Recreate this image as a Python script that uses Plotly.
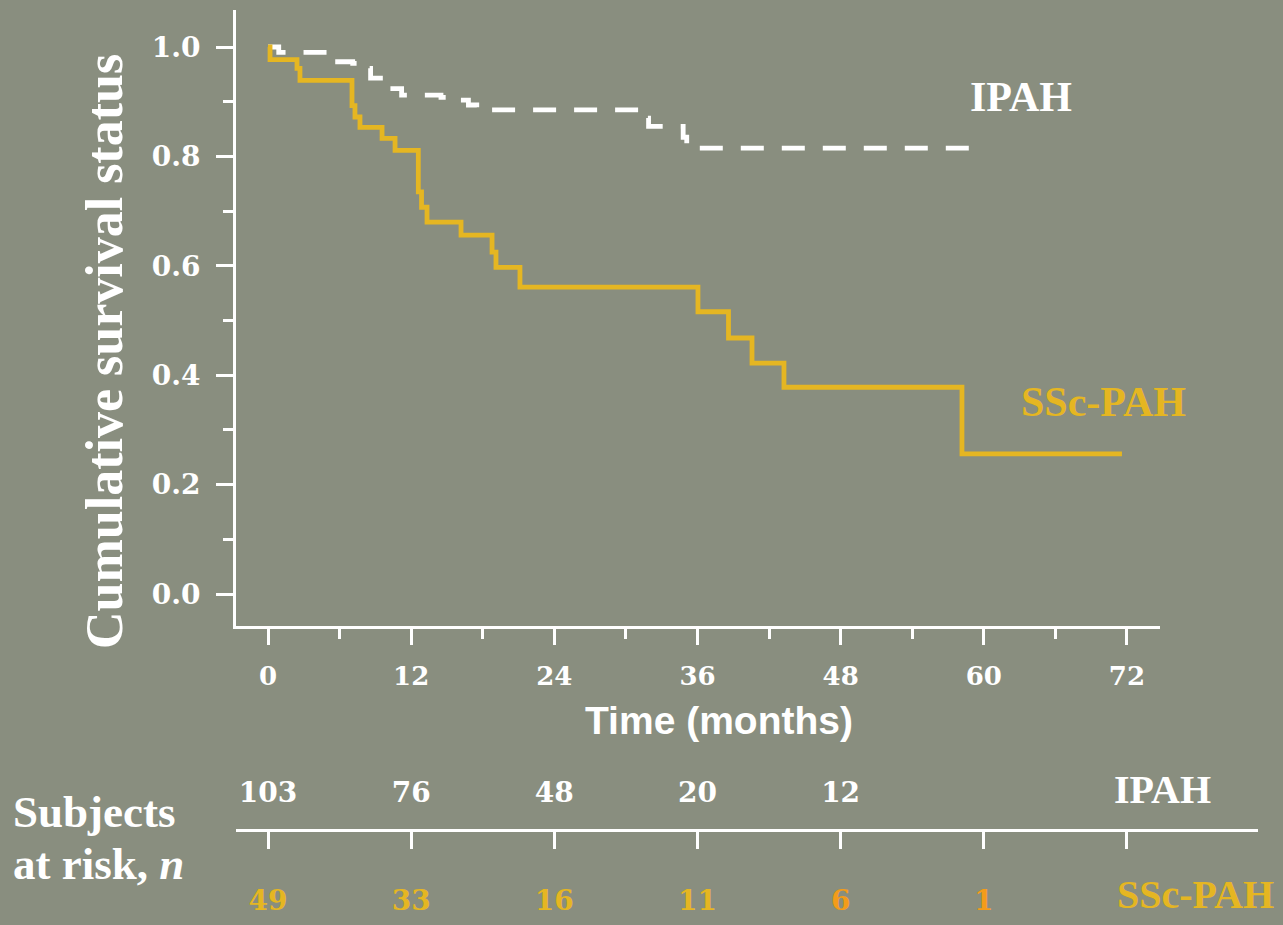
import plotly.graph_objects as go

# ---------------- data ----------------
ssc_time = [0, 0.17, 2.43, 2.68, 7.04, 7.29, 7.71, 9.56, 10.65, 12.6, 12.87, 13.33,
            16.18, 18.78, 19.11, 21.12, 36.04, 38.6, 40.57, 43.25, 58.17, 71.58]
ssc_surv = [1.0, 0.977, 0.961, 0.939, 0.893, 0.872, 0.853, 0.833, 0.811, 0.735, 0.707, 0.680,
            0.656, 0.625, 0.597, 0.561, 0.516, 0.468, 0.422, 0.378, 0.256, 0.256]

ipah_time = [0, 0.9, 5.5, 7.1, 7.6, 8.6, 9.9, 11.2, 14.5, 16.0, 16.8, 17.5,
             31.6, 31.9, 34.8, 35.1, 59.3]
ipah_surv = [1.0, 0.99, 0.973, 0.970, 0.961, 0.943, 0.924, 0.912, 0.908, 0.903, 0.894, 0.885,
             0.870, 0.855, 0.835, 0.815, 0.815]

x_ticks = [0, 12, 24, 36, 48, 60, 72]
y_ticks = [0.0, 0.2, 0.4, 0.6, 0.8, 1.0]

risk_times_ipah = [0, 12, 24, 36, 48]
risk_ipah = [103, 76, 48, 20, 12]
risk_times_ssc = [0, 12, 24, 36, 48, 60]
risk_ssc = [49, 33, 16, 11, 6, 1]

# ---------------- style ----------------
BG = "#898E7F"
WHITE = "#FFFFFF"
YELLOW = "#E5B622"
ORANGE = "#F39C1A"
SERIF = "Liberation Serif"
NUMF = "DejaVu Serif"

W, H = 1283, 925
L, R, T, B = 236, 25, 10, 0
pw, ph = W - L - R, H - T - B
ppm = 11.93            # px per month
x0px = 268             # px position of month 0
y1px, y0px = 47, 594   # px of survival 1.0 and 0.0
ppu = y0px - y1px


def t_of(px):
    return (px - x0px) / ppm


def py(px):  # paper fraction of a pixel row
    return (T + ph - px) / ph


fig = go.Figure()

fig.add_trace(go.Scatter(
    x=ipah_time, y=ipah_surv, mode="lines", line_shape="hv",
    line=dict(color=WHITE, width=4.8, dash="23px,18px"),
    showlegend=False, hoverinfo="skip"))
fig.add_trace(go.Scatter(
    x=ssc_time, y=ssc_surv, mode="lines", line_shape="hv",
    line=dict(color=YELLOW, width=4.8),
    showlegend=False, hoverinfo="skip"))

# risk table numbers (subplot 2; row 1 = IPAH, row 0 = SSc-PAH)
fig.add_trace(go.Scatter(
    x=risk_times_ipah, y=[1] * len(risk_ipah), text=[str(v) for v in risk_ipah],
    mode="text", textposition="middle center", cliponaxis=False,
    textfont=dict(family=NUMF, size=28, color=WHITE, weight="bold"),
    xaxis="x2", yaxis="y2", showlegend=False, hoverinfo="skip"))
fig.add_trace(go.Scatter(
    x=risk_times_ssc, y=[0] * len(risk_ssc), text=[str(v) for v in risk_ssc],
    mode="text", textposition="middle center", cliponaxis=False,
    textfont=dict(family=NUMF, size=28, weight="bold",
                  color=[YELLOW, YELLOW, YELLOW, YELLOW, ORANGE, ORANGE]),
    xaxis="x2", yaxis="y2", showlegend=False, hoverinfo="skip"))

row_gap = 108.0  # px between risk rows
y2_top_px, y2_bot_px = 760, 925
ipah_row_px = 795

axis_common = dict(showgrid=False, zeroline=False, showline=True, linecolor=WHITE,
                   linewidth=3, ticks="outside", tickcolor=WHITE, tickwidth=3)

fig.update_layout(
    width=W, height=H,
    margin=dict(l=L, r=R, t=T, b=B),
    paper_bgcolor=BG, plot_bgcolor=BG,
    xaxis=dict(domain=[0, (1160 - L) / pw], anchor="y",
               range=[t_of(L), t_of(1160)],
               tickvals=x_ticks, ticklen=16, ticklabelstandoff=9,
               tickfont=dict(family=NUMF, size=26, color=WHITE, weight="bold"),
               minor=dict(dtick=6, tick0=0, ticklen=10, ticks="outside",
                          tickcolor=WHITE, tickwidth=3),
               **axis_common),
    yaxis=dict(domain=[py(626), 1], anchor="x",
               range=[-(626 - y0px) / ppu, 1 + (y1px - T) / ppu],
               tickvals=y_ticks, tickformat=".1f", ticklen=17, ticklabelstandoff=10,
               tickfont=dict(family=NUMF, size=28, color=WHITE, weight="bold"),
               minor=dict(dtick=0.1, tick0=0, ticklen=10, ticks="outside",
                          tickcolor=WHITE, tickwidth=3),
               **axis_common),
    xaxis2=dict(domain=[0, 1], anchor="free", position=py(830),
                range=[t_of(L), t_of(W - R)],
                tickvals=x_ticks, ticklen=17, showticklabels=False,
                **axis_common),
    yaxis2=dict(domain=[0, py(y2_top_px)], anchor="x2",
                range=[1 - (y2_bot_px - ipah_row_px) / row_gap,
                       1 + (ipah_row_px - y2_top_px) / row_gap],
                visible=False),
)

ann = []
# series labels in plot
ann.append(dict(text="IPAH", x=t_of(1021), y=(y0px - 97) / ppu, xref="x", yref="y",
                xanchor="center", yanchor="middle", showarrow=False,
                font=dict(family=SERIF, size=42, color=WHITE, weight="bold")))
ann.append(dict(text="SSc-PAH", x=t_of(1103), y=(y0px - 402) / ppu, xref="x", yref="y",
                xanchor="center", yanchor="middle", showarrow=False,
                font=dict(family=SERIF, size=42, color=YELLOW, weight="bold")))
# axis titles
ann.append(dict(text="Cumulative survival status", textangle=-90,
                x=(104 - L) / pw, y=py(352), xref="paper", yref="paper",
                xanchor="center", yanchor="middle", showarrow=False,
                font=dict(family=SERIF, size=52, color=WHITE, weight="bold")))
ann.append(dict(text="Time (months)", x=t_of(719), y=py(720),
                xref="x", yref="paper", xanchor="center", yanchor="middle", showarrow=False,
                font=dict(family="Liberation Sans", size=39, color=WHITE, weight="bold")))
# risk table labels
ann.append(dict(text="Subjects", x=(11 - L) / pw, y=py(812), xanchor="left", yanchor="middle",
                xref="paper", yref="paper", showarrow=False,
                font=dict(family=SERIF, size=45, color=WHITE, weight="bold")))
ann.append(dict(text="at risk, <i>n</i>", x=(11 - L) / pw, y=py(864), xanchor="left",
                yanchor="middle", xref="paper", yref="paper", showarrow=False,
                font=dict(family=SERIF, size=45, color=WHITE, weight="bold")))
ann.append(dict(text="IPAH", x=t_of(1162), y=1.05, xref="x2", yref="y2",
                xanchor="center", yanchor="middle", showarrow=False,
                font=dict(family=SERIF, size=40, color=WHITE, weight="bold")))
ann.append(dict(text="SSc-PAH", x=t_of(1195), y=0.08, xref="x2", yref="y2",
                xanchor="center", yanchor="middle", showarrow=False,
                font=dict(family=SERIF, size=40, color=YELLOW, weight="bold")))

fig.update_layout(annotations=ann)

fig.write_html("out.html", config={"displayModeBar": False},
               post_script="document.body.style.margin='0';")
